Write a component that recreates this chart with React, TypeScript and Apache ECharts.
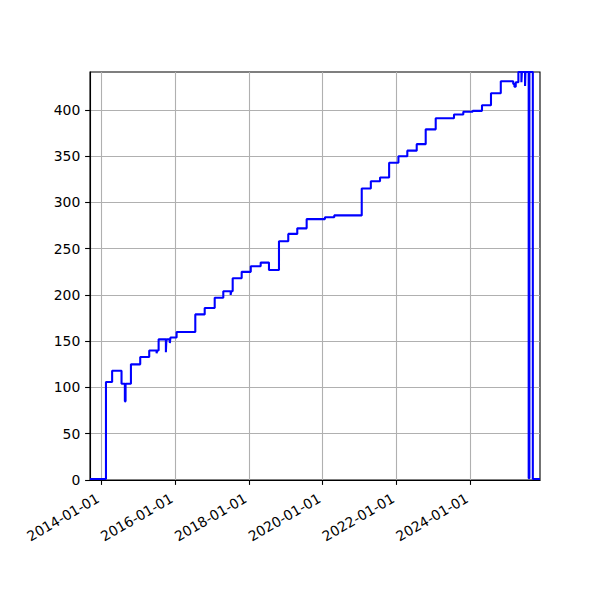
import React, { useEffect, useRef } from "react";
import * as echarts from "echarts";

// change dates (value holds from this date until the next one)
const dates: string[] = [
  "2013-09-11", "2014-02-16", "2014-04-18", "2014-07-20", "2014-08-22", "2014-08-29",
  "2014-10-21", "2015-01-21", "2015-04-20", "2015-07-02", "2015-07-08", "2015-07-22",
  "2015-10-02", "2015-10-07", "2015-11-10", "2015-11-16", "2016-01-16", "2016-07-19",
  "2016-10-20", "2017-01-27", "2017-04-22", "2017-07-04", "2017-07-09", "2017-07-24",
  "2017-10-21", "2018-01-19", "2018-04-27", "2018-07-18", "2018-10-25", "2019-01-25",
  "2019-04-24", "2019-07-26", "2020-01-23", "2020-04-24", "2021-01-21", "2021-04-21",
  "2021-07-21", "2021-10-19", "2022-01-19", "2022-04-17", "2022-07-19", "2022-10-16",
  "2023-01-23", "2023-07-23", "2023-10-23", "2024-01-24", "2024-04-25", "2024-07-23",
  "2024-10-28", "2025-02-28", "2025-03-12", "2025-03-25", "2025-04-20", "2025-05-20",
  "2025-05-25", "2025-06-25", "2025-06-29", "2025-07-31", "2025-08-07", "2025-09-10",
  "2025-11-20",
];

const counts: number[] = [
  1, 106, 118, 104, 85, 104,
  125, 133, 140, 137, 140, 152,
  138, 152, 148, 154, 160, 179,
  186, 197, 204, 200, 204, 218,
  225, 231, 235, 227, 258, 266,
  272, 282, 284, 286, 315, 323,
  327, 343, 350, 356, 363, 379,
  391, 395, 398, 399, 405, 418,
  431, 428, 425, 430, 441, 430,
  441, 426, 441, 2, 441, 1,
  1,
];

const xStart = "2013-09-11";
const xEnd = "2025-11-20";
const xTickLabels: string[] = [
  "2014-01-01", "2016-01-01", "2018-01-01", "2020-01-01", "2022-01-01", "2024-01-01",
];
const yTickValues: number[] = [0, 50, 100, 150, 200, 250, 300, 350, 400];
const yMin = 0;
const yMax = 441;

function toTs(s: string): number {
  const [y, m, d] = s.split("-").map(Number);
  return Date.UTC(y, m - 1, d);
}

function fmtDate(v: number): string {
  const d = new Date(v);
  const p = (n: number) => (n < 10 ? "0" + n : "" + n);
  return d.getUTCFullYear() + "-" + p(d.getUTCMonth() + 1) + "-" + p(d.getUTCDate());
}

const FONT = "DejaVu Sans";

export default function App() {
  const ref = useRef<HTMLDivElement>(null);

  useEffect(() => {
    if (!ref.current) return;
    const chart = echarts.init(ref.current, undefined, { renderer: "svg" });
    const data = dates.map((d, i) => [toTs(d), counts[i]]);
    const xTicks = xTickLabels.map(toTs);

    chart.setOption({
      animation: false,
      backgroundColor: "#ffffff",
      grid: {
        left: 90,
        right: 60,
        top: 72,
        bottom: 120,
        show: true,
        borderColor: "#000000",
        borderWidth: 1.1,
        backgroundColor: "transparent",
        containLabel: false,
      },
      xAxis: {
        type: "value",
        min: toTs(xStart),
        max: toTs(xEnd),
        axisLine: { show: true, onZero: false, lineStyle: { color: "#000000", width: 1.1 } },
        axisTick: {
          show: true,
          customValues: xTicks,
          length: 4.9,
          lineStyle: { color: "#000000", width: 1.1 },
        },
        axisLabel: {
          show: true,
          customValues: xTicks,
          rotate: 30,
          margin: 15,
          padding: [0, 4, 0, 0],
          color: "#000000",
          fontFamily: FONT,
          fontSize: 13.9,
          hideOverlap: false,
          formatter: (v: number) => fmtDate(v),
        },
        splitLine: { show: true, lineStyle: { color: "#b0b0b0", width: 1.1 } },
      },
      yAxis: {
        type: "value",
        min: yMin,
        max: yMax,
        interval: 50,
        axisLine: { show: true, lineStyle: { color: "#000000", width: 1.1 } },
        axisTick: {
          show: true,
          customValues: yTickValues,
          length: 4.9,
          lineStyle: { color: "#000000", width: 1.1 },
        },
        axisLabel: {
          show: true,
          customValues: yTickValues,
          margin: 9.7,
          color: "#000000",
          fontFamily: FONT,
          fontSize: 13.9,
        },
        splitLine: { show: true, lineStyle: { color: "#b0b0b0", width: 1.1 } },
      },
      series: [
        {
          type: "line",
          data,
          step: "end",
          showSymbol: false,
          symbol: "none",
          clip: true,
          lineStyle: { color: "#0000ff", width: 2.08 },
        },
      ],
    });

    return () => chart.dispose();
  }, []);

  return (
    <div
      ref={ref}
      style={{ position: "fixed", left: 0, top: 0, width: 600, height: 600, background: "#fff" }}
    />
  );
}
